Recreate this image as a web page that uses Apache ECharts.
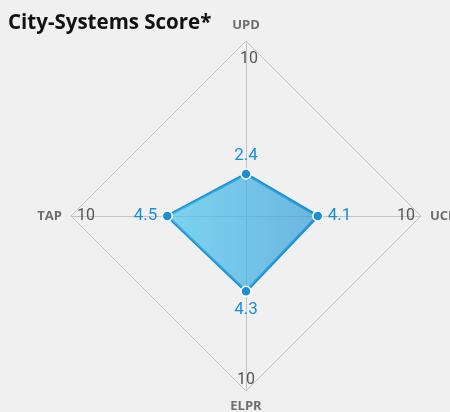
<!DOCTYPE html>
<html><head><meta charset="utf-8">
<script src="https://cdn.jsdelivr.net/npm/echarts@6/dist/echarts.min.js"></script>
<style>html,body{margin:0;padding:0;background:#f0f0f0}#c{width:450px;height:412px}</style>
</head><body><div id="c"></div>
<script>
// counter-clockwise from top: UPD (top), TAP (left), ELPR (bottom), UCR (right)
const indicators = ['UPD', 'TAP', 'ELPR', 'UCR'];
const maxValues = [10, 10, 10, 10];
const scores = [2.4, 4.5, 4.3, 4.1];
const titleText = 'City-Systems Score*';

const valuePos = ['top', 'left', 'bottom', 'right'];
const valueDist = [6, 6, 6, 6];
const maxPos = ['bottom', 'right', 'top', 'left'];
const maxDist = [9, 5, 2, 5];
const maxOffset = [[3, 0], [0, 0], [0, 0], [0, 0]];

function labelItems(values, positions, dists, offsets, color) {
  return positions.map((p, i) => ({
    value: values,
    label: {
      show: true, position: p, distance: dists[i], color: color,
      offset: offsets ? offsets[i] : [0, 0],
      formatter: params => (params.dimensionIndex === i ? String(values[i]) : '')
    }
  }));
}

const chart = echarts.init(document.getElementById('c'));
chart.setOption({
  backgroundColor: '#f0f0f0',
  title: {
    text: titleText, left: 3, top: 8,
    textStyle: { fontFamily: 'Open Sans', fontWeight: 'bold', fontSize: 20.5, color: '#111' }
  },
  radar: {
    center: [246, 216],
    radius: 175,
    startAngle: 90,
    splitNumber: 1,
    shape: 'polygon',
    indicator: indicators.map((n, i) => ({ name: n, max: maxValues[i], min: 0 })),
    axisName: { color: '#6e6e6e', fontWeight: 'bold', fontSize: 13, fontFamily: 'Open Sans' },
    nameGap: 9,
    axisLine: { lineStyle: { color: '#c4c4c4', width: 1 } },
    splitLine: { lineStyle: { color: '#c4c4c4', width: 1 } },
    splitArea: { show: false },
    axisTick: { show: false },
    axisLabel: { show: false }
  },
  series: [{
    type: 'radar',
    symbol: 'circle',
    symbolSize: 10,
    z: 2,
    itemStyle: { color: '#1b8fd6', borderColor: '#fff', borderWidth: 1.5 },
    lineStyle: { color: '#1b8fd6', width: 3 },
    areaStyle: {
      opacity: 0.7,
      color: new echarts.graphic.LinearGradient(0, 0, 1, 0, [
        { offset: 0, color: '#4cc7f0' },
        { offset: 1, color: '#339dd9' }
      ])
    },
    label: { show: false },
    data: [{ value: scores, name: 'Score' }]
  }, {
    type: 'radar',
    symbol: 'circle',
    symbolSize: 8,
    silent: true,
    z: 3,
    itemStyle: { color: 'rgba(0,0,0,0)', borderWidth: 0 },
    lineStyle: { width: 0, color: 'rgba(0,0,0,0)' },
    label: { fontSize: 17, fontFamily: 'Roboto' },
    data: labelItems(scores, valuePos, valueDist, null, '#1b8fd6')
  }, {
    type: 'radar',
    symbol: 'circle',
    symbolSize: 2,
    silent: true,
    z: 3,
    itemStyle: { color: 'rgba(0,0,0,0)', borderWidth: 0 },
    lineStyle: { width: 0, color: 'rgba(0,0,0,0)' },
    label: { fontSize: 16, fontFamily: 'Roboto' },
    data: labelItems(maxValues, maxPos, maxDist, maxOffset, '#555')
  }]
});
</script></body></html>
